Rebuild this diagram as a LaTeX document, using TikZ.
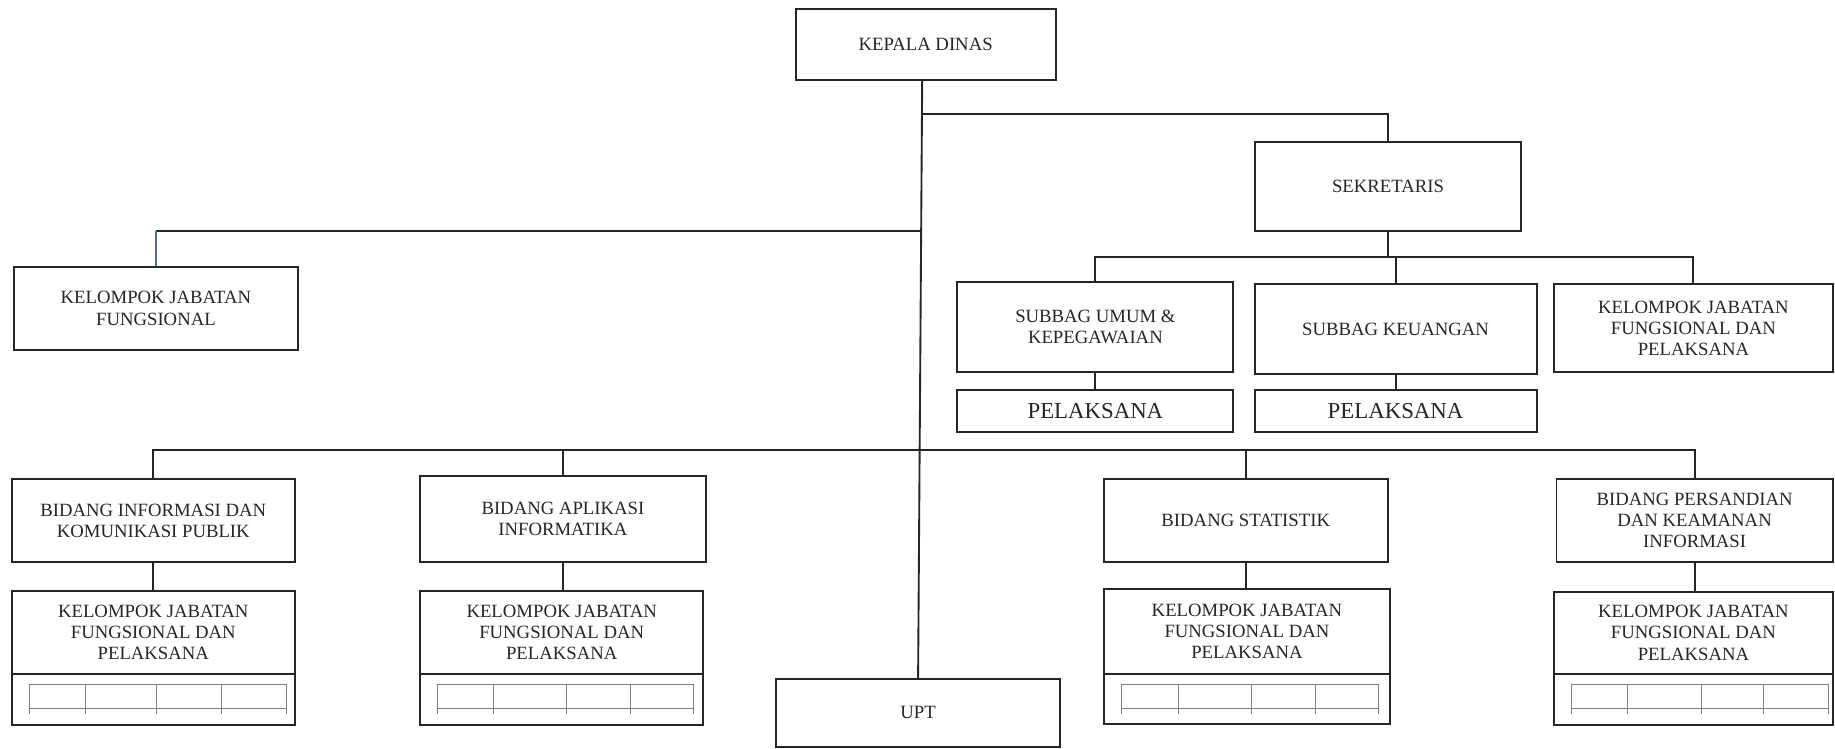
\documentclass[tikz,border=0pt]{standalone}
\usepackage{fontspec}
\setmainfont{Liberation Serif}
\usetikzlibrary{calc}
\newcommand\fsA{\fontsize{16}{18}\selectfont}
\newcommand\fsB{\fontsize{19.5}{22}\selectfont}
\newcommand\mytable[5]{%
  \draw[tline] (#1,584.5) -- (#5,584.5);
  \draw[tline] (#1,605.5) -- (#5,605.5);
  \foreach \xx in {#1,#2,#3,#4,#5} \draw[tline] (\xx,584.5) -- (\xx,610.5);
}
\begin{document}
\begin{tikzpicture}[x=1pt,y=-1pt,
  box/.style={draw=black!85, line width=1.7pt, align=center, inner sep=0pt, font=\fsA, text=black!85},
  conn/.style={line width=1.6pt, draw=black!85},
  blueline/.style={line width=1.3pt, draw={rgb,255:red,80;green,110;blue,175}},
  tline/.style={line width=0.8pt, draw=black!50}]
\useasboundingbox (0,0) rectangle (1568,640);
\fill[white] (0,0) rectangle (1568,640);

\node[box, minimum width=222pt, minimum height=60pt] (kepala) at (791,38) {KEPALA DINAS};
\node[box, minimum width=228pt, minimum height=76.5pt] (sek) at (1186,159.25) {SEKRETARIS};
\node[box, minimum width=242.5pt, minimum height=71pt] (kjf0) at (133.25,263.5) {KELOMPOK JABATAN\\FUNGSIONAL};
\node[box, minimum width=236pt, minimum height=77pt] (subum) at (936,279.5) {SUBBAG UMUM \&\\KEPEGAWAIAN};
\node[box, minimum width=241pt, minimum height=76.5pt] (subkeu) at (1192.5,281.25) {SUBBAG KEUANGAN};
\node[box, minimum width=238pt, minimum height=75pt] (kjfs) at (1447,280.5) {KELOMPOK JABATAN\\FUNGSIONAL DAN\\PELAKSANA};
\node[box, font=\fsB, minimum width=236pt, minimum height=36pt] (pel1) at (936,351) {PELAKSANA};
\node[box, font=\fsB, minimum width=241pt, minimum height=36pt] (pel2) at (1192.5,351) {PELAKSANA};

\node[box, minimum width=242pt, minimum height=71.5pt] (b1) at (131,444.75) {BIDANG INFORMASI DAN\\KOMUNIKASI PUBLIK};
\node[box, minimum width=244pt, minimum height=73.5pt] (b2) at (481,443.75) {BIDANG APLIKASI\\INFORMATIKA};
\node[box, minimum width=243pt, minimum height=71.5pt] (b3) at (1064.5,444.75) {BIDANG STATISTIK};
\node[box, minimum width=236pt, minimum height=71.5pt] (b4) at (1448,444.75) {BIDANG PERSANDIAN\\DAN KEAMANAN\\INFORMASI};

\node[box, minimum width=242pt, minimum height=71pt] (k1) at (131,540.5) {KELOMPOK JABATAN\\FUNGSIONAL DAN\\PELAKSANA};
\node[box, minimum width=242pt, minimum height=43.5pt] (t1) at (131,597.75) {};
\node[box, minimum width=242pt, minimum height=71pt] (k2) at (480,540.5) {KELOMPOK JABATAN\\FUNGSIONAL DAN\\PELAKSANA};
\node[box, minimum width=242pt, minimum height=43.5pt] (t2) at (480,597.75) {};
\node[box, minimum width=245pt, minimum height=72pt] (k3) at (1065.5,539.5) {KELOMPOK JABATAN\\FUNGSIONAL DAN\\PELAKSANA};
\node[box, minimum width=245pt, minimum height=43pt] (t3) at (1065.5,597) {};
\node[box, minimum width=238pt, minimum height=70.5pt] (k4) at (1447,540.75) {KELOMPOK JABATAN\\FUNGSIONAL DAN\\PELAKSANA};
\node[box, minimum width=238pt, minimum height=43.5pt] (t4) at (1447,597.75) {};

\node[box, minimum width=243pt, minimum height=58pt] (upt) at (784.5,609) {UPT};

% trunk
\coordinate (top) at ($(kepala.south)+(-3,0)$);
\draw[conn] (top) -- (upt.north);
\coordinate (jS) at ($(top)!0.0566!(upt.north)$);
\coordinate (jK) at ($(top)!0.252!(upt.north)$);
\coordinate (jB) at ($(top)!0.619!(upt.north)$);

% sekretaris
\draw[conn] (jS) -| (sek.north);
\draw[conn] (sek.south) -- ++(0,21.5) coordinate (s2);
\draw[conn] (subum.north) |- (s2) -| (kjfs.north);
\draw[conn] (s2 -| subkeu.north) -- (subkeu.north);
\draw[conn] (subum.south) -- (pel1.north);
\draw[conn] (subkeu.south) -- (pel2.north);

% kelompok jabatan fungsional
\draw[conn] (jK) -- (jK -| kjf0.north);
\draw[blueline] (jK -| kjf0.north) -- (kjf0.north);

% bidang
\draw[conn] (b1.north) |- (jB) -| (b4.north);
\draw[conn] (b2.north) -- (b2.north |- jB);
\draw[conn] (b3.north) -- (b3.north |- jB);
\draw[conn] (b1.south) -- (b1.south |- k1.north);
\draw[conn] (b2.south) -- (b2.south |- k2.north);
\draw[conn] (b3.south) -- (b3.south |- k3.north);
\draw[conn] (b4.south) -- (b4.south |- k4.north);

% inner tables
\mytable{25}{73}{134}{189.4}{245}
\mytable{373.4}{421.9}{483.7}{538.4}{592.8}
\mytable{958.7}{1007}{1069}{1123.7}{1177.9}
\mytable{1343}{1391}{1453.6}{1507}{1562.6}
\end{tikzpicture}
\end{document}
